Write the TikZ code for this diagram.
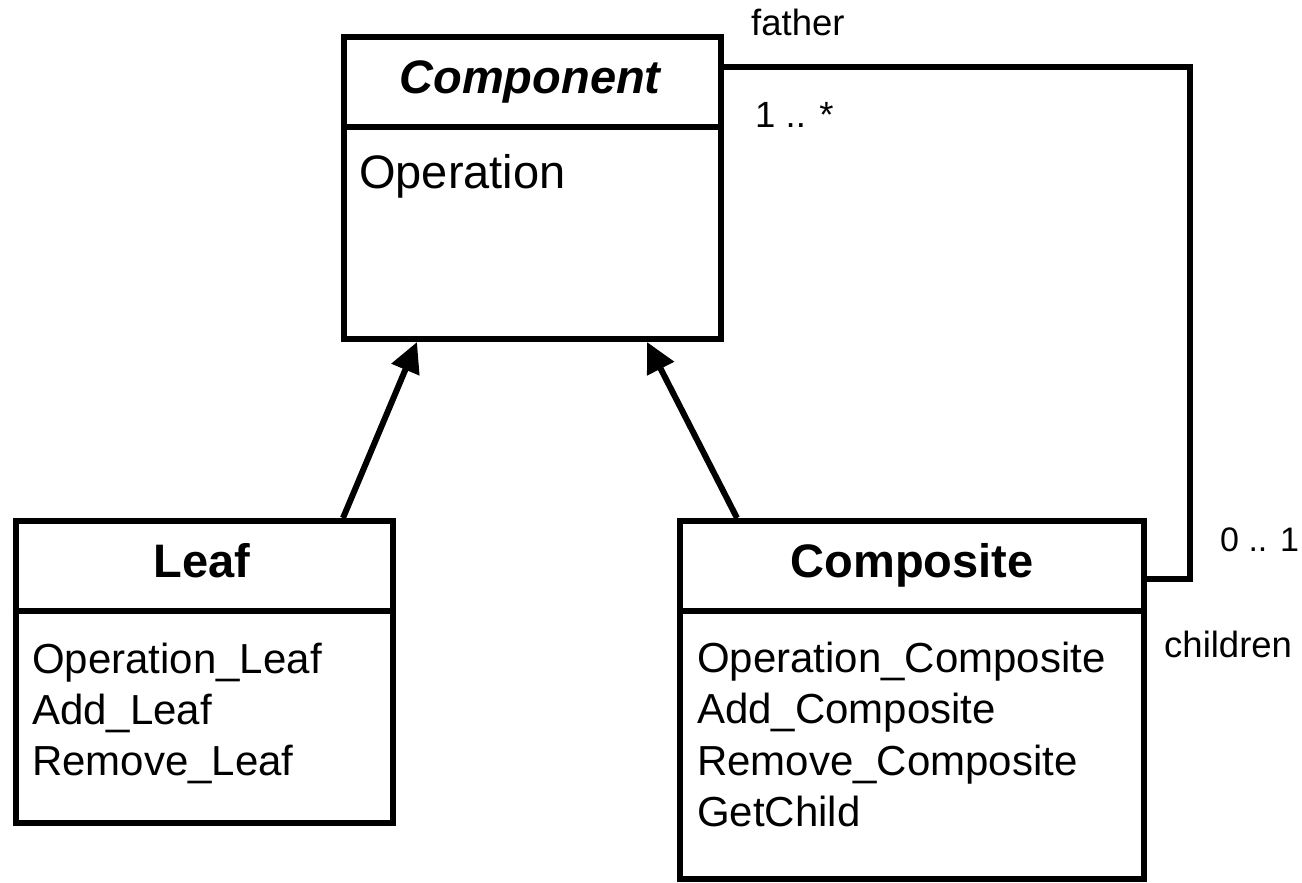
\documentclass[tikz,border=0pt]{standalone}
\usepackage{fontspec}
\setmainfont{Liberation Sans}
\usetikzlibrary{arrows.meta,calc}
\begin{document}
\begin{tikzpicture}[x=1pt,y=-1pt,
  umlbox/.style={draw, rectangle, line width=6pt, inner sep=0pt},
  divider/.style={line width=6pt},
  title/.style={font=\fontsize{47}{56}\selectfont\bfseries, anchor=base, inner sep=0pt},
  body/.style={font=\fontsize{42}{50}\selectfont, anchor=base west, inner sep=0pt},
  bigbody/.style={font=\fontsize{47}{56}\selectfont, anchor=base west, inner sep=0pt},
  lbl/.style={font=\fontsize{36.5}{44}\selectfont, anchor=base west, inner sep=0pt},
  gen/.style={line width=6pt, -{Triangle[length=30pt,width=29pt]}},
  assoc/.style={line width=6pt}]
\useasboundingbox (0,0) rectangle (1302,883);
\fill[white] (0,0) rectangle (1302,883);

% Component
\node[umlbox, minimum width=377pt, minimum height=302pt] (comp) at (532.5,188) {};
\draw[divider] (comp.west |- 0,127) -- (comp.east |- 0,127);
\node[title, font=\fontsize{47}{56}\selectfont\bfseries\itshape] (compt) at (530,93) {Component};
\node[bigbody] (compop) at (359,188) {Operation};

% Leaf
\node[umlbox, minimum width=377.5pt, minimum height=302pt] (leaf) at (204.25,672) {};
\draw[divider] (leaf.west |- 0,611) -- (leaf.east |- 0,611);
\node[title] (leaft) at (202,577) {Leaf};
\node[body] (l1) at (32,673) {Operation\_Leaf};
\node[body] (l2) at (32,724) {Add\_Leaf};
\node[body] (l3) at (32,775) {Remove\_Leaf};

% Composite
\node[umlbox, minimum width=464pt, minimum height=358pt] (cmp) at (912,700) {};
\draw[divider] (cmp.west |- 0,611) -- (cmp.east |- 0,611);
\node[title] (cmpt) at (912,577) {Composite};
\node[body] (c1) at (697,672) {Operation\_Composite};
\node[body] (c2) at (697,723.5) {Add\_Composite};
\node[body] (c3) at (697,775) {Remove\_Composite};
\node[body] (c4) at (697,826.5) {GetChild};

% generalizations
\draw[gen] ([xshift=138.75pt]leaf.north) -- ([xshift=-115.5pt]comp.south);
\draw[gen] ([xshift=-175pt]cmp.north) -- ([xshift=114.5pt]comp.south);

% association
\coordinate (a1) at (1190,67);
\coordinate (a2) at (1190,579);
\draw[assoc] (comp.east |- a1) -- (a1) -- (a2) -- (cmp.east |- a2);

% labels
\node[lbl] (father) at (751,36) {father};
\node[lbl] (mult1) at (755,128) {1 .. *};
\node[lbl, font=\fontsize{34}{41}\selectfont] (mult2) at (1220,551) {0 .. 1};
\node[lbl] (children) at (1164,657) {children};
\end{tikzpicture}
\end{document}
